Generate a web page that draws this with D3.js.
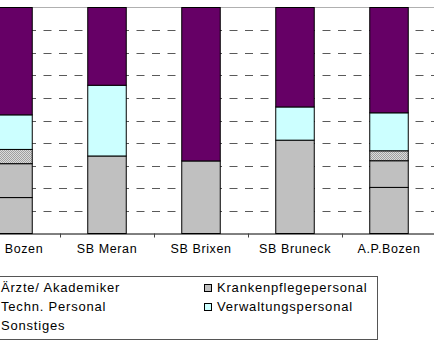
<!DOCTYPE html>
<html>
<head>
<meta charset="utf-8">
<script src="https://cdn.jsdelivr.net/npm/d3@7"></script>
<style>
  html, body { margin: 0; padding: 0; background: #fff; overflow: hidden; }
  svg { display: block; }
  text { font-family: "Liberation Sans", Arial, sans-serif; fill: #000; }
</style>
</head>
<body>
<svg id="chart" width="434" height="341"></svg>
<script>
// Staff composition per hospital (share of total, %)
const categories = ["SB Bozen", "SB Meran", "SB Brixen", "SB Bruneck", "A.P.Bozen"];
const seriesNames = ["Ärzte/ Akademiker", "Krankenpflegepersonal", "Techn. Personal", "Verwaltungspersonal", "Sonstiges"];
const aerzte      = [15.9,  0,    0,    0,    20.4];
const pflege      = [15.0, 34.3, 32.1, 41.3, 11.8];
const technik     = [ 6.3,  0,    0,    0,     4.4];
const verwaltung  = [15.3, 31.3,  0,   14.7, 16.8];
const sonstiges   = [47.5, 34.4, 67.9, 44.0, 46.6];
const yTicks = [0, 10, 20, 30, 40, 50, 60, 70, 80, 90, 100];

const seriesValues = [aerzte, pflege, technik, verwaltung, sonstiges];
const keys = ["s0", "s1", "s2", "s3", "s4"];
const colors = ["#c0c0c0", "#c0c0c0", "url(#dots)", "#ccffff", "#660066"];

const rows = categories.map((c, i) => {
  const r = { cat: c };
  keys.forEach((k, j) => r[k] = seriesValues[j][i]);
  return r;
});

const svg = d3.select("#chart");

// stippled fill for the technical staff
const defs = svg.append("defs");
const pat = defs.append("pattern").attr("id", "dots")
  .attr("width", 2).attr("height", 2).attr("patternUnits", "userSpaceOnUse");
pat.append("rect").attr("width", 2).attr("height", 2).attr("fill", "#dcdcdc");
pat.append("rect").attr("x", 0).attr("y", 0).attr("width", 1).attr("height", 1).attr("fill", "#a0a0a0");
pat.append("rect").attr("x", 1).attr("y", 1).attr("width", 1).attr("height", 1).attr("fill", "#a0a0a0");

const plot = { left: -34, right: 436, top: 7.5, bottom: 233.5 };

const x = d3.scaleBand().domain(categories)
  .range([plot.left, plot.right]).paddingInner(0).paddingOuter(0);
const y = d3.scaleLinear().domain([0, 100]).range([plot.bottom, plot.top]);
const barW = 38.5;

// dashed gridlines
svg.append("g").selectAll("line")
  .data(yTicks.filter(t => t > 0 && t < 100))
  .join("line")
  .attr("x1", plot.left).attr("x2", plot.right)
  .attr("y1", d => Math.round(y(d)) + 0.5).attr("y2", d => Math.round(y(d)) + 0.5)
  .attr("stroke", "#5a5a5a").attr("stroke-width", 1)
  .attr("stroke-dasharray", "8,7.5");

// top border of the plot area
svg.append("line")
  .attr("x1", plot.left).attr("x2", plot.right)
  .attr("y1", y(100)).attr("y2", y(100))
  .attr("stroke", "#b0b0b0");

// stacked bars
const stacked = d3.stack().keys(keys)(rows);
const gBars = svg.append("g");
stacked.forEach((layer, li) => {
  gBars.append("g").selectAll("rect")
    .data(layer.filter(d => d[1] - d[0] > 0))
    .join("rect")
    .attr("x", d => x(d.data.cat) + (x.bandwidth() - barW) / 2)
    .attr("width", barW)
    .attr("y", d => y(d[1]))
    .attr("height", d => y(d[0]) - y(d[1]))
    .attr("fill", colors[li])
    .attr("stroke", "#000").attr("stroke-width", 1);
});

// category axis
const xAxis = d3.axisBottom(x).tickSize(0).tickPadding(10.5);
const gx = svg.append("g").attr("transform", `translate(0,${plot.bottom})`).call(xAxis);
gx.select(".domain").attr("stroke", "#000");
gx.selectAll("text")
  .attr("font-size", 12.5).attr("letter-spacing", "0.6px")
  .attr("font-family", "'Liberation Sans', Arial, sans-serif")
  .attr("dy", "0.71em");
// tick marks between categories
gx.append("g").selectAll("line")
  .data(categories.slice(1))
  .join("line")
  .attr("x1", d => Math.round(x(d)) + 0.5).attr("x2", d => Math.round(x(d)) + 0.5)
  .attr("y1", 0).attr("y2", 4)
  .attr("stroke", "#444");

// legend
const legend = { left: -40, top: 276.5, right: 377.5, bottom: 339.5 };
svg.append("rect")
  .attr("x", legend.left).attr("y", legend.top)
  .attr("width", legend.right - legend.left).attr("height", legend.bottom - legend.top)
  .attr("fill", "#fff").attr("stroke", "#555");

const legendPos = [
  { x: 1, y: 292 }, { x: 217, y: 292 },
  { x: 1, y: 311 }, { x: 217, y: 311 },
  { x: 1, y: 330 }
];
const legendFill = ["#c0c0c0", "#c0c0c0", "url(#dots)", "#ccffff", "#660066"];
const items = svg.append("g").selectAll("g")
  .data(seriesNames)
  .join("g")
  .attr("transform", (d, i) => `translate(${legendPos[i].x},${legendPos[i].y})`);
items.append("rect")
  .attr("x", -12.5).attr("y", -7.5).attr("width", 7).attr("height", 7)
  .attr("fill", (d, i) => legendFill[i]).attr("stroke", "#000");
items.append("text")
  .attr("font-size", 13).attr("letter-spacing", "0.8px")
  .text(d => d);
</script>
</body>
</html>
